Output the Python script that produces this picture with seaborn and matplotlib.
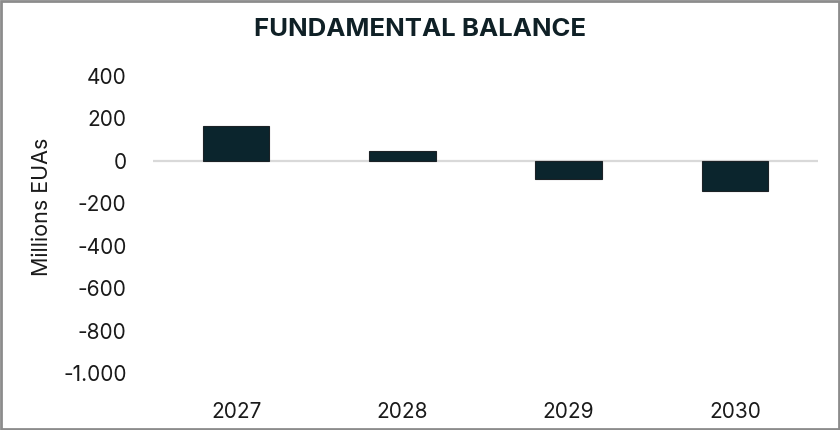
import numpy as np
import pandas as pd
import matplotlib
matplotlib.use("Agg")
import matplotlib.pyplot as plt
from matplotlib.ticker import FuncFormatter
from matplotlib.patches import Rectangle
import seaborn as sns

# datos
anios = ["2027", "2028", "2029", "2030"]
balance = [165, 47, -85, -144]
ticks_y = [-1000, -800, -600, -400, -200, 0, 200, 400]

df = pd.DataFrame({"anio": anios, "balance": balance})

sns.set_theme(style="white")
plt.rcParams["font.family"] = ["Inter", "DejaVu Sans"]

fig = plt.figure(figsize=(8.4, 4.3), dpi=100)
ax = fig.add_axes([153 / 840, 1 - 373 / 430, 665 / 840, 297 / 430])

sns.barplot(data=df, x="anio", y="balance", color="#0b252d", saturation=1,
            width=0.4, edgecolor="#1c2226", linewidth=0.8, ax=ax, zorder=3)
ax.axhline(0, color="#d9d9d9", lw=1.6, zorder=2)

ax.set_ylim(-1000, 400)
ax.set_yticks(ticks_y)
ax.yaxis.set_major_formatter(FuncFormatter(lambda v, p: f"{int(v):,}".replace(",", ".")))
ax.tick_params(axis="y", length=0, pad=19, labelsize=15, labelcolor="#1a1a1a")
ax.tick_params(axis="x", length=0, pad=21, labelsize=15, labelcolor="#1a1a1a")
ax.set_xlabel("")
ax.set_ylabel("Millions EUAs", fontsize=15.5, color="#1a1a1a")
ax.yaxis.set_label_coords(-0.152, 0.56)
sns.despine(ax=ax, left=True, bottom=True)

fig.text(0.5, 1 - 29 / 430, "FUNDAMENTAL BALANCE", ha="center", va="center",
         fontsize=18.5, fontweight="bold", color="#0f2026")

# marco gris alrededor
fig.patches.append(Rectangle((0.0015, 0.003), 0.997, 0.994, transform=fig.transFigure,
                             fill=False, edgecolor="#8c8c8c", lw=2))

fig.savefig("out.png", dpi=100)
